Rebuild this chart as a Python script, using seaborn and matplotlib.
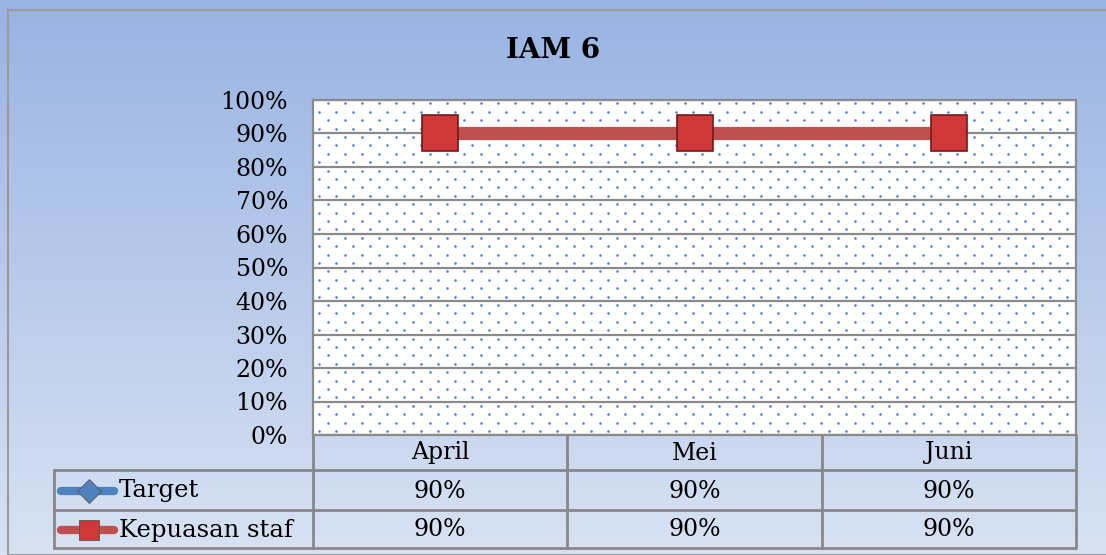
import numpy as np
import pandas as pd
import matplotlib
matplotlib.use("Agg")
import matplotlib.pyplot as plt
import seaborn as sns
from matplotlib.lines import Line2D
from matplotlib.patches import Rectangle

months = ["April", "Mei", "Juni"]
target = [0.90, 0.90, 0.90]
kepuasan = [0.90, 0.90, 0.90]
series_names = ["Target", "Kepuasan staf"]
yticks = np.arange(0, 1.01, 0.1)

df = pd.DataFrame({"bulan": months * 2,
                   "nilai": target + kepuasan,
                   "seri": [series_names[0]] * 3 + [series_names[1]] * 3})

sns.set_theme(style="white")
plt.rcParams["font.family"] = ["DejaVu Serif"]
plt.rcParams["text.color"] = "black"
plt.rcParams["ytick.color"] = "black"

W, H = 1106, 555
fig = plt.figure(figsize=(W / 100, H / 100), dpi=100)

def fx(px):
    return px / W

def fy(py):
    return 1 - py / H

# gradient background
bg = fig.add_axes([0, 0, 1, 1], zorder=-10)
grad = np.linspace(0, 1, 256).reshape(-1, 1)
top = np.array([0x99, 0xB3, 0xE2]) / 255
bot = np.array([0xD8, 0xE2, 0xF3]) / 255
img = top + (bot - top) * grad[:, :, None]
bg.imshow(img, aspect="auto", extent=[0, 1, 0, 1], origin="upper")
bg.set_xlim(0, 1)
bg.set_ylim(0, 1)
bg.axis("off")
bg.add_patch(Rectangle((fx(8), 0), 1, fy(10), fill=False, ec="#9a9a9a", lw=1.5))

# plot area
x0, x1, y0, y1 = 313, 1076, 100, 435
ax = fig.add_axes([fx(x0), fy(y1), fx(x1) - fx(x0), fy(y0) - fy(y1)])
ax.set_facecolor("white")

# dotted pattern of the plot area
for k, yy in enumerate(np.arange(0.0, 1.0, 8.4 / (y1 - y0))):
    off = 0 if k % 2 == 0 else 8.5
    xs = np.arange(6 + off, x1 - x0, 17) / (x1 - x0)
    ax.scatter(xs, np.full_like(xs, yy + 4 / (y1 - y0)), s=3.5, color="#4a84cc",
               transform=ax.transAxes, zorder=0, linewidths=0)

sns.lineplot(data=df[df.seri == "Target"], x="bulan", y="nilai", ax=ax,
             color="#4F81BD", lw=7, marker="D", markersize=14,
             markeredgecolor="#2c5a94", zorder=3, legend=False)
sns.lineplot(data=df[df.seri == "Kepuasan staf"], x="bulan", y="nilai", ax=ax,
             color="#C0504D", lw=9.5, marker="s", markersize=26,
             markerfacecolor="#D03838", markeredgecolor="#6e1c1c",
             markeredgewidth=1.2, zorder=4, legend=False)

ax.set_xlim(-0.5, 2.5)
ax.set_ylim(0, 1)
ax.set_yticks(yticks)
ax.set_yticklabels([f"{int(round(v * 100))}%" for v in yticks], fontsize=17)
ax.tick_params(axis="y", length=0, pad=18, colors="black")
ax.set_xticks([])
ax.set_xlabel("")
ax.set_ylabel("")
for v in yticks:
    ax.axhline(v, color="#8a8a8a", lw=1.6, zorder=1)
for s in ax.spines.values():
    s.set_color("#8a8a8a")
    s.set_linewidth(1.6)

fig.text(0.5, fy(50), "IAM 6", ha="center", va="center", fontsize=20,
         fontweight="bold")

# data table
cols = [x0, 567, 822, x1]
tleft = 54
lc = "#888888"
tl = dict(color=lc, lw=2, transform=fig.transFigure)
for ry in (470, 510, 548):
    fig.add_artist(Line2D([fx(tleft), fx(x1)], [fy(ry), fy(ry)], **tl))
fig.add_artist(Line2D([fx(tleft), fx(tleft)], [fy(470), fy(548)], **tl))
for c in cols:
    fig.add_artist(Line2D([fx(c), fx(c)], [fy(435), fy(548)], **tl))

for i, m in enumerate(months):
    cx = (cols[i] + cols[i + 1]) / 2
    fig.text(fx(cx), fy(453), m, ha="center", va="center", fontsize=17)
    fig.text(fx(cx), fy(491), f"{int(round(target[i] * 100))}%", ha="center",
             va="center", fontsize=17)
    fig.text(fx(cx), fy(530), f"{int(round(kepuasan[i] * 100))}%", ha="center",
             va="center", fontsize=17)

# legend keys inside table
leg = [("Target", "#4F81BD", "D", "#4F81BD", 12, 491),
       ("Kepuasan staf", "#C0504D", "s", "#D03838", 15, 530)]
for name, col, mk, mfc, ms, yy in leg:
    fig.add_artist(Line2D([fx(61), fx(114)], [fy(yy), fy(yy)], color=col, lw=6,
                          solid_capstyle="round", transform=fig.transFigure))
    fig.add_artist(Line2D([fx(89)], [fy(yy)], marker=mk, markersize=ms,
                          markerfacecolor=mfc, markeredgecolor="#555555",
                          markeredgewidth=0.6, transform=fig.transFigure))
    fig.text(fx(119), fy(yy), name, ha="left", va="center", fontsize=17.5)

fig.savefig("out.png", dpi=100)
